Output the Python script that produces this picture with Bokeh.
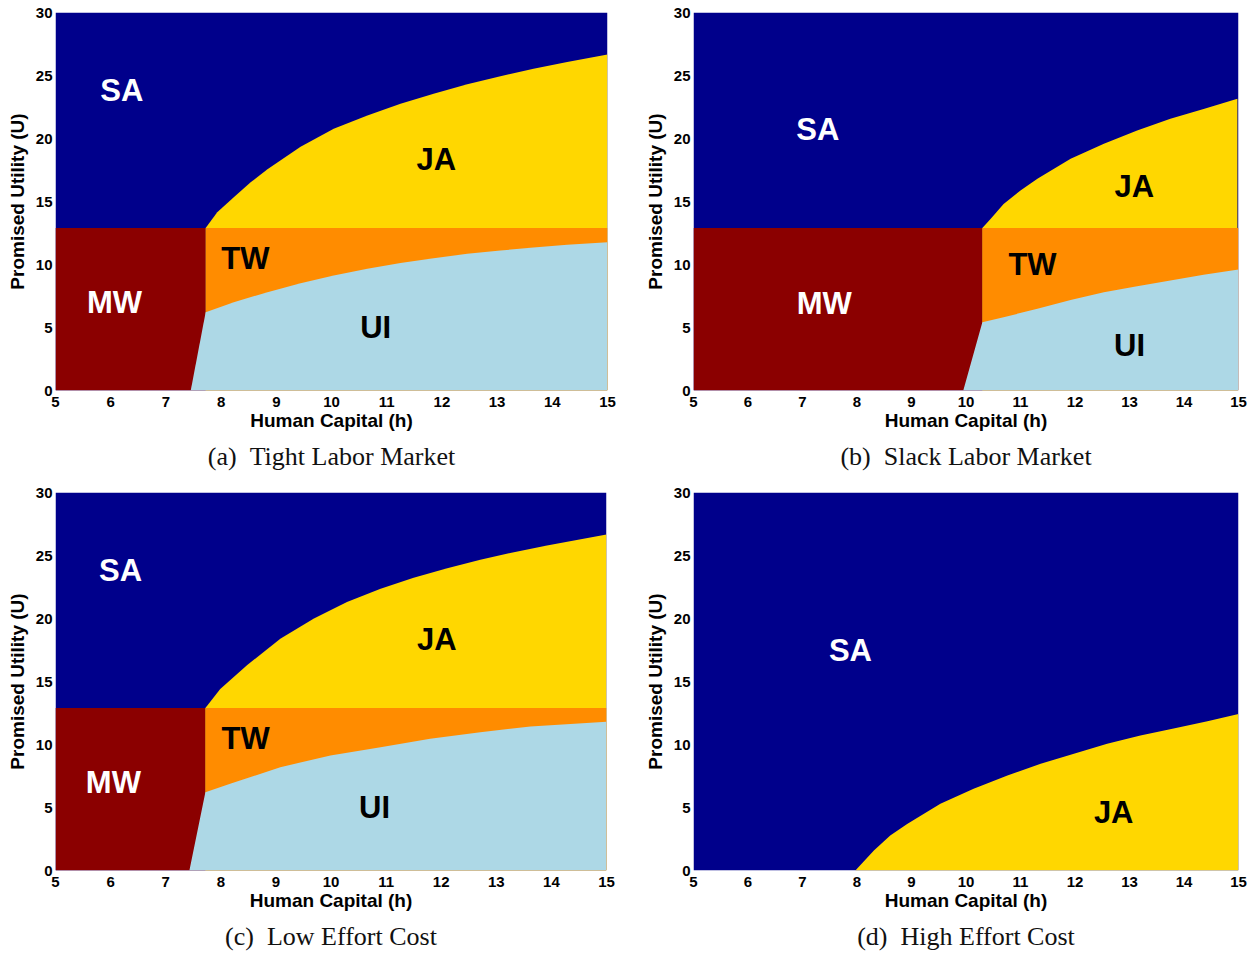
from bokeh.plotting import figure
from bokeh.layouts import column, row
from bokeh.models import Title, FixedTicker, ColumnDataSource
from bokeh.core.properties import value
from bokeh.embed import file_html
from bokeh.resources import INLINE

# ---------------- data ----------------
x_ticks = [5, 6, 7, 8, 9, 10, 11, 12, 13, 14, 15]
y_ticks = [0, 5, 10, 15, 20, 25, 30]
h_min, h_max = 5, 15
u_min, u_max = 0, 30

captions = ["(a)\u00a0\u00a0Tight Labor Market", "(b)\u00a0\u00a0Slack Labor Market",
            "(c)\u00a0\u00a0Low Effort Cost", "(d)\u00a0\u00a0High Effort Cost"]

# panel (a)
a_split_u = 12.9
a_mw_h = 7.72
a_ui_base_h = 7.45
a_ja_h = [7.72, 7.93, 8.23, 8.53, 8.84, 9.44, 10.04, 10.65, 11.25, 11.85, 12.46, 13.06, 13.66, 14.27, 15.0]
a_ja_u = [12.9, 14.15, 15.34, 16.5, 17.55, 19.35, 20.77, 21.83, 22.75, 23.55, 24.3, 24.95, 25.53, 26.08, 26.67]
a_ui_h = [7.72, 8.23, 8.84, 9.44, 10.04, 10.65, 11.25, 11.85, 12.46, 13.06, 13.66, 14.27, 15.0]
a_ui_u = [6.21, 7.01, 7.8, 8.52, 9.13, 9.66, 10.11, 10.5, 10.85, 11.11, 11.34, 11.56, 11.77]

# panel (b)
b_split_u = 12.9
b_mw_h = 10.30
b_ui_base_h = 9.95
b_ja_h = [10.30, 10.45, 10.69, 11.0, 11.31, 11.92, 12.53, 13.14, 13.75, 14.36, 14.98]
b_ja_u = [12.9, 13.62, 14.81, 15.87, 16.8, 18.39, 19.58, 20.63, 21.56, 22.35, 23.15]
b_ui_h = [10.30, 10.69, 11.31, 11.92, 12.53, 13.14, 13.75, 14.36, 15.0]
b_ui_u = [5.42, 5.82, 6.48, 7.19, 7.8, 8.28, 8.73, 9.18, 9.6]

# panel (c)
c_split_u = 12.9
c_mw_h = 7.72
c_ui_base_h = 7.43
c_ja_h = [7.72, 7.99, 8.48, 9.08, 9.69, 10.29, 10.9, 11.5, 12.11, 12.71, 13.32, 13.92, 15.0]
c_ja_u = [12.9, 14.4, 16.3, 18.4, 20.0, 21.3, 22.36, 23.23, 23.98, 24.66, 25.26, 25.79, 26.67]
c_ui_h = [7.72, 8.17, 9.08, 9.99, 10.9, 11.8, 12.71, 13.62, 15.0]
c_ui_u = [6.21, 6.88, 8.2, 9.13, 9.79, 10.45, 10.98, 11.43, 11.8]

# panel (d)
d_ja_h = [7.97, 8.31, 8.61, 8.92, 9.53, 10.14, 10.76, 11.37, 11.98, 12.59, 13.20, 13.81, 14.43, 15.0]
d_ja_u = [0.0, 1.59, 2.78, 3.70, 5.29, 6.48, 7.54, 8.47, 9.26, 10.05, 10.71, 11.26, 11.85, 12.43]

# region labels
a_lab = ["SA", "JA", "TW", "MW", "UI"]
a_lab_h = [6.2, 11.9, 8.44, 6.07, 10.8]
a_lab_u = [23.8, 18.3, 10.5, 7.0, 5.0]
b_lab = ["SA", "JA", "TW", "MW", "UI"]
b_lab_h = [7.28, 13.09, 11.22, 7.40, 13.0]
b_lab_u = [20.7, 16.2, 10.0, 6.9, 3.57]
c_lab = ["SA", "JA", "TW", "MW", "UI"]
c_lab_h = [6.18, 11.92, 8.45, 6.05, 10.79]
c_lab_u = [23.8, 18.3, 10.5, 7.0, 5.0]
d_lab = ["SA", "JA"]
d_lab_h = [7.88, 12.71]
d_lab_u = [17.5, 4.6]

NAVY = "#00008B"
GOLD = "#FFD700"
ORANGE = "#FF8C00"
DARKRED = "#8B0000"
LIGHTBLUE = "#ADD8E6"
label_colors = {"SA": "white", "MW": "white", "JA": "black", "TW": "black", "UI": "black"}

SANS = "Liberation Sans"
SERIF = "Liberation Serif"


def make_fig(fw, left, right, top, bottom, caption):
    p = figure(frame_width=fw, frame_height=378, x_range=(h_min, h_max), y_range=(u_min, u_max),
               output_backend="svg", toolbar_location=None,
               min_border_left=left, min_border_right=right, min_border_top=top, min_border_bottom=bottom)
    p.outline_line_color = None
    p.xgrid.visible = False
    p.ygrid.visible = False
    p.background_fill_color = "white"
    for ax in (p.xaxis[0], p.yaxis[0]):
        ax.axis_line_color = None
        ax.major_tick_line_color = None
        ax.minor_tick_line_color = None
        ax.major_tick_out = 0
        ax.major_tick_in = 0
        ax.major_label_text_font = SANS
        ax.major_label_text_font_style = "bold"
        ax.major_label_text_font_size = "15px"
        ax.major_label_text_color = "black"
        ax.axis_label_text_font = SANS
        ax.axis_label_text_font_style = "bold"
        ax.axis_label_text_font_size = "19px"
        ax.axis_label_text_color = "black"
    p.xaxis[0].ticker = FixedTicker(ticks=x_ticks)
    p.yaxis[0].ticker = FixedTicker(ticks=y_ticks)
    p.xaxis[0].axis_label = "Human Capital (h)"
    p.yaxis[0].axis_label = "Promised Utility (U)"
    p.xaxis[0].major_label_standoff = 6
    p.xaxis[0].axis_label_standoff = 0
    p.yaxis[0].major_label_standoff = 3
    p.yaxis[0].axis_label_standoff = 5
    t = Title(text=caption, align="center", text_font=SERIF, text_font_size="26px",
              text_font_style="normal", text_color="#111111", standoff=13)
    p.add_layout(t, "below")
    # SA background region
    p.quad(left=[h_min], right=[h_max], bottom=[u_min], top=[u_max], fill_color=NAVY, line_color=None)
    return p


def add_labels(p, labs, hs, us):
    src = ColumnDataSource(dict(x=hs, y=us, t=labs, c=[label_colors[s] for s in labs]))
    p.text(x="x", y="y", text="t", text_color="c", source=src, text_align="center",
           text_baseline="middle", text_font=value(SANS), text_font_style="bold",
           text_font_size="31px")


def four_region(p, split_u, mw_h, ui_base_h, ja_h, ja_u, ui_h, ui_u, labs, lh, lu):
    p.varea(x=ja_h, y1=[u_min] * len(ja_h), y2=ja_u, fill_color=GOLD)
    p.quad(left=[h_min], right=[mw_h], bottom=[u_min], top=[split_u], fill_color=DARKRED, line_color=None)
    p.quad(left=[mw_h], right=[h_max], bottom=[u_min], top=[split_u], fill_color=ORANGE, line_color=None)
    xs = [ui_base_h] + list(ui_h) + [h_max]
    ys = [u_min] + list(ui_u) + [u_min]
    p.patch(x=xs, y=ys, fill_color=LIGHTBLUE, line_color=None)
    add_labels(p, labs, lh, lu)


pa = make_fig(552, 55, 31, 12, 90, captions[0])
four_region(pa, a_split_u, a_mw_h, a_ui_base_h, a_ja_h, a_ja_u, a_ui_h, a_ui_u, a_lab, a_lab_h, a_lab_u)

pb = make_fig(545, 55, 10, 12, 90, captions[1])
four_region(pb, b_split_u, b_mw_h, b_ui_base_h, b_ja_h, b_ja_u, b_ui_h, b_ui_u, b_lab, b_lab_h, b_lab_u)

pc = make_fig(551, 55, 32, 12, 85, captions[2])
four_region(pc, c_split_u, c_mw_h, c_ui_base_h, c_ja_h, c_ja_u, c_ui_h, c_ui_u, c_lab, c_lab_h, c_lab_u)

pd = make_fig(545, 55, 10, 12, 85, captions[3])
pd.varea(x=d_ja_h, y1=[u_min] * len(d_ja_h), y2=d_ja_u, fill_color=GOLD)
add_labels(pd, d_lab, d_lab_h, d_lab_u)

layout = column(row(pa, pb), row(pc, pd))
open("out.html", "w").write(file_html(layout, INLINE))
